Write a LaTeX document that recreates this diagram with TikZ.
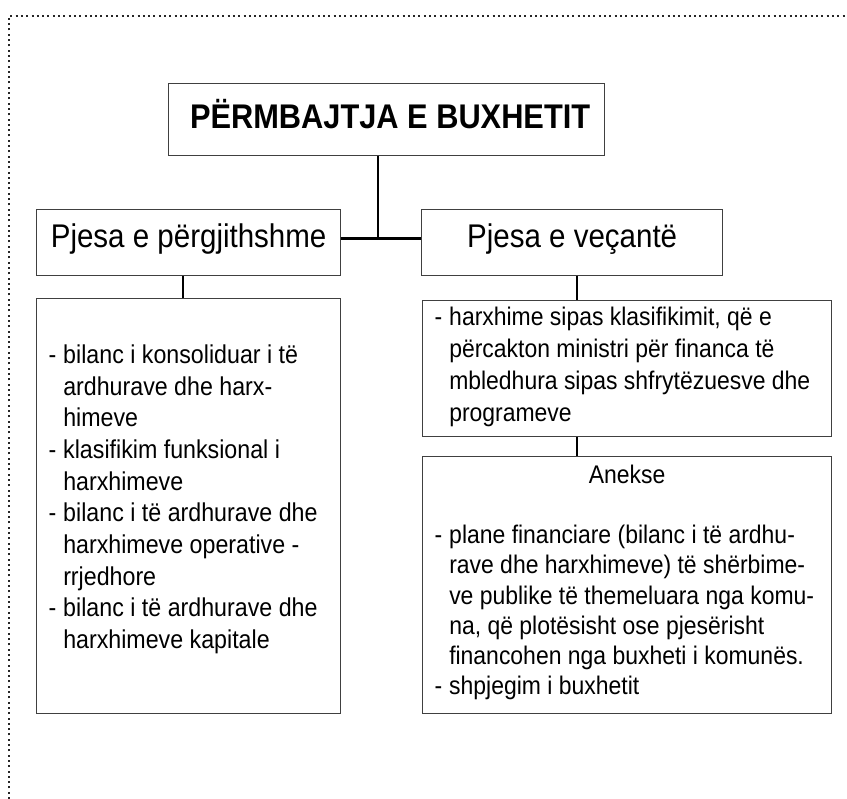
\documentclass[tikz,border=0pt]{standalone}
\usepackage{fontspec}
\setmainfont{Liberation Sans}[FakeStretch=0.9]
\usepackage{array}
\begin{document}
\begin{tikzpicture}[x=1pt,y=-1pt,
  box/.style={draw=black!75, line width=1.3pt, inner sep=0pt, anchor=north west},
  headbox/.style={box, minimum height=66pt, text height=21pt, text depth=11.6pt,
                  font=\fontsize{32.8}{38}\selectfont},
  conn/.style={draw=black, line width=2.3pt},
  dotframe/.style={draw=black!85, line width=2pt, dash pattern=on 2pt off 3.3pt}]
\useasboundingbox (0,0) rectangle (847,799);
\fill[white] (0,0) rectangle (847,799);
\draw[dotframe] (9,799) -- (9,16) -- (847,16);

\node[box, minimum width=436pt, minimum height=72pt, text height=21.5pt, text depth=4.1pt,
      font=\fontsize{34.2}{40}\selectfont\bfseries] (title) at (168,83) {\hspace*{7pt}PËRMBAJTJA E BUXHETIT};

\node[headbox, minimum width=304pt] (gen) at (36,209) {Pjesa e përgjithshme};
\node[headbox, minimum width=301pt] (spec) at (421,209) {Pjesa e veçantë};

\node[box] (body) at (36,298) {\parbox[c][415pt][t]{304pt}{\fontsize{25.8}{31.7}\selectfont
  \vspace*{42.5pt}\hspace*{12pt}\begin{tabular}[t]{@{}p{14.6pt}@{}l@{}}
  - & bilanc i konsoliduar i të\\
    & ardhurave dhe harx-\\
    & himeve\\
  - & klasifikim funksional i\\
    & harxhimeve\\
  - & bilanc i të ardhurave dhe\\
    & harxhimeve operative -\\
    & rrjedhore\\
  - & bilanc i të ardhurave dhe\\
    & harxhimeve kapitale
  \end{tabular}}};

\node[box] (rtop) at (422,300) {\parbox[c][136pt][t]{409pt}{\fontsize{25.5}{32}\selectfont
  \vspace*{2.6pt}\hspace*{12pt}\begin{tabular}[t]{@{}p{14.6pt}@{}l@{}}
  - & harxhime sipas klasifikimit, që e\\
    & përcakton ministri për financa të\\
    & mbledhura sipas shfrytëzuesve dhe\\
    & programeve
  \end{tabular}}};

\node[box] (anx) at (422,456) {\parbox[c][257pt][t]{409pt}{\fontsize{25.5}{30.2}\selectfont
  {\centering\rule{0pt}{27pt}Anekse\par}
  \vspace*{29.8pt}\raggedright\hspace*{12pt}\begin{tabular}[t]{@{}p{14.6pt}@{}l@{}}
  - & plane financiare (bilanc i të ardhu-\\
    & rave dhe harxhimeve) të shërbime-\\
    & ve publike të themeluara nga komu-\\
    & na, që plotësisht ose pjesërisht\\
    & financohen nga buxheti i komunës.\\
  - & shpjegim i buxhetit
  \end{tabular}}};

\coordinate (j) at (378,238.5);
\coordinate (cl) at (183,0);
\coordinate (cr) at (577,0);
\draw[conn] (title.south -| j) -- (j);
\draw[conn] (gen.east |- j) -- (spec.west |- j);
\draw[conn] (gen.south -| cl) -- (body.north -| cl);
\draw[conn] (spec.south -| cr) -- (rtop.north -| cr);
\draw[conn] (rtop.south -| cr) -- (anx.north -| cr);
\end{tikzpicture}
\end{document}
